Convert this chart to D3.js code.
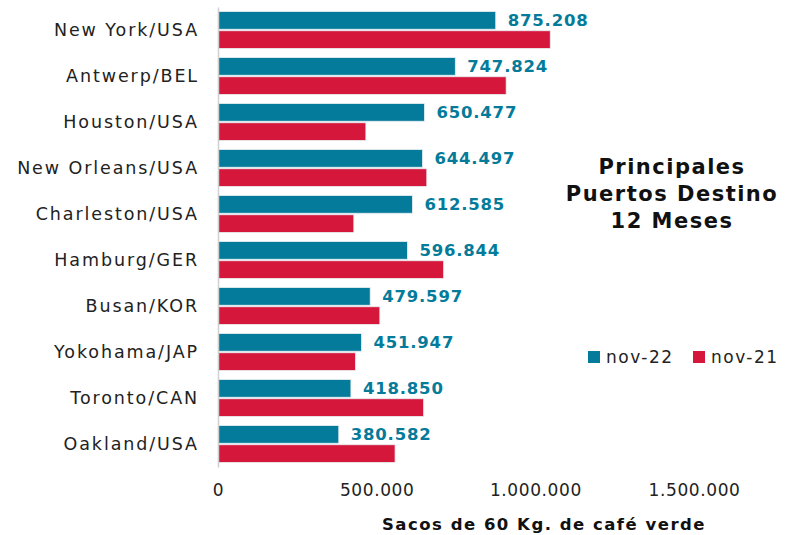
<!DOCTYPE html>
<html>
<head>
<meta charset="utf-8">
<script src="https://cdn.jsdelivr.net/npm/d3@7"></script>
<style>
  body { margin: 0; background: #fff; }
  text { font-family: "DejaVu Sans", sans-serif; }
</style>
</head>
<body>
<div id="chart"></div>
<script>
// data
var ports = ["New York/USA", "Antwerp/BEL", "Houston/USA", "New Orleans/USA", "Charleston/USA",
  "Hamburg/GER", "Busan/KOR", "Yokohama/JAP", "Toronto/CAN", "Oakland/USA"];
var nov22 = [875208, 747824, 650477, 644497, 612585, 596844, 479597, 451947, 418850, 380582];
var nov21 = [1047000, 908000, 466000, 658000, 428000, 711000, 510000, 433000, 648000, 558000];
var seriesNames = ["nov-22", "nov-21"];
var xTicks = [0, 500000, 1000000, 1500000];

var colors = ["#047b9a", "#d4173b"];
var width = 785, height = 535;

var svg = d3.select("#chart").append("svg")
  .attr("width", width)
  .attr("height", height);

var fmt = d3.formatLocale({ decimal: ",", thousands: ".", grouping: [3], currency: ["", ""] }).format(",d");

var x = d3.scaleLinear().domain([0, 1500000]).range([218, 694]);
var y = d3.scaleBand().domain(ports).range([7, 467]).paddingInner(0.2).paddingOuter(0.1);
var sub = d3.scaleBand().domain(seriesNames).range([0, y.bandwidth()]).paddingInner(0.08);

var rows = ports.map(function(p, i) {
  return { port: p, values: [{ s: "nov-22", v: nov22[i] }, { s: "nov-21", v: nov21[i] }] };
});

var g = svg.selectAll("g.row")
  .data(rows)
  .enter().append("g")
  .attr("class", "row")
  .attr("transform", function(d) { return "translate(0," + y(d.port) + ")"; });

g.selectAll("rect")
  .data(function(d) { return d.values; })
  .enter().append("rect")
  .attr("x", x(0))
  .attr("y", function(d) { return sub(d.s); })
  .attr("width", function(d) { return x(d.v) - x(0); })
  .attr("height", sub.bandwidth())
  .attr("fill", function(d, i) { return colors[i]; })
  .attr("stroke", "#e8eef2")
  .attr("stroke-width", 0.8);

// value labels for nov-22 only
g.append("text")
  .attr("x", function(d) { return x(d.values[0].v) + 12; })
  .attr("y", sub("nov-22") + sub.bandwidth() / 2)
  .attr("dominant-baseline", "central")
  .style("font-size", "16.5px")
  .style("letter-spacing", "0.8px")
  .style("font-weight", "bold")
  .style("fill", colors[0])
  .text(function(d) { return fmt(d.values[0].v); });

// y axis
var yAxis = svg.append("g")
  .attr("transform", "translate(" + x(0) + ",0)")
  .call(d3.axisLeft(y).tickSize(0).tickPadding(19));
yAxis.select(".domain").attr("stroke", "#d0d0d0").attr("stroke-width", 1.5);
yAxis.selectAll("text")
  .style("font-size", "17.5px")
  .style("letter-spacing", "1.9px")
  .style("fill", "#222");

// x axis
var xAxis = svg.append("g")
  .attr("transform", "translate(0,481)")
  .call(d3.axisBottom(x).tickValues(xTicks).tickSize(0).tickFormat(fmt));
xAxis.select(".domain").remove();
xAxis.selectAll("text")
  .style("font-size", "17px")
  .style("letter-spacing", "0.6px")
  .style("fill", "#222");

svg.append("text")
  .attr("x", 544)
  .attr("y", 530)
  .attr("text-anchor", "middle")
  .style("font-size", "16.5px")
  .style("letter-spacing", "1.5px")
  .style("font-weight", "bold")
  .style("fill", "#111")
  .text("Sacos de 60 Kg. de café verde");

// title
var titleLines = ["Principales", "Puertos Destino", "12 Meses"];
svg.append("g").selectAll("text")
  .data(titleLines)
  .enter().append("text")
  .attr("x", 672)
  .attr("y", function(d, i) { return 174 + i * 27; })
  .attr("text-anchor", "middle")
  .style("font-size", "21px")
  .style("letter-spacing", "1.5px")
  .style("font-weight", "bold")
  .style("fill", "#111")
  .text(function(d) { return d; });

// legend
var legend = svg.append("g").selectAll("g")
  .data(seriesNames)
  .enter().append("g")
  .attr("transform", function(d, i) { return "translate(" + (588 + i * 105) + ",351)"; });
legend.append("rect")
  .attr("width", 12).attr("height", 12)
  .attr("fill", function(d, i) { return colors[i]; });
legend.append("text")
  .attr("x", 18).attr("y", 6)
  .attr("dominant-baseline", "central")
  .style("font-size", "17px")
  .style("letter-spacing", "1.5px")
  .style("fill", "#222")
  .text(function(d) { return d; });
</script>
</body>
</html>
